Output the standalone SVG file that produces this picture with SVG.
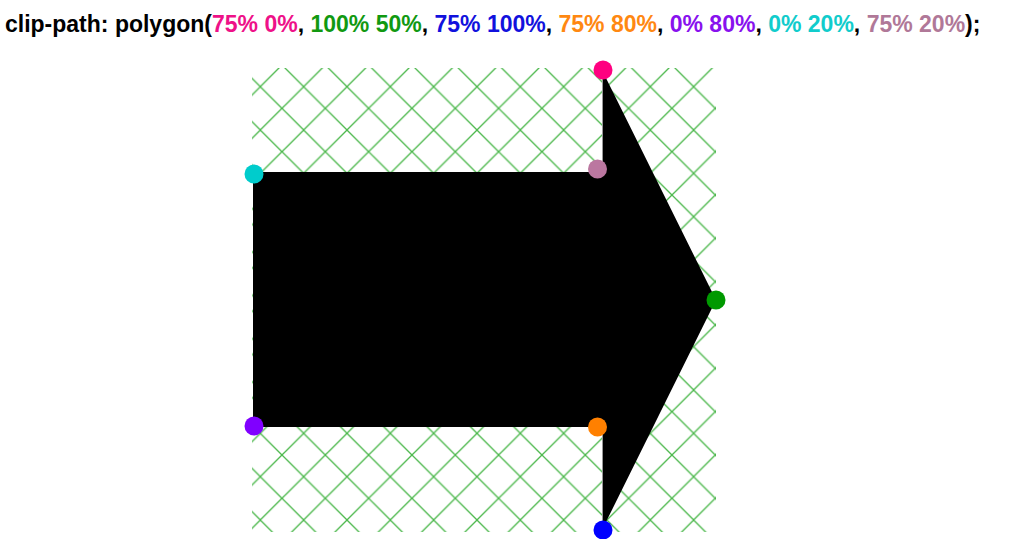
<svg xmlns="http://www.w3.org/2000/svg" width="1024" height="539" viewBox="0 0 1024 539">
  <style>
    .title { font-family: "Liberation Sans", Arial, sans-serif; font-weight: bold; font-size: 23px; fill: #000; }
    .c1 { fill: #ee1188; } .c2 { fill: #119911; } .c3 { fill: #1111dd; } .c4 { fill: #ff8811; }
    .c5 { fill: #8811ee; } .c6 { fill: #11cccc; } .c7 { fill: #b07898; }
    .hatch { stroke: #4cb84c; stroke-width: 1.3; fill: none; }
  </style>
  <defs>
    <pattern id="grid" patternUnits="userSpaceOnUse" x="0.34" y="0.03" width="43.33" height="43.33">
      <line class="hatch" x1="-2" y1="-2" x2="45.33" y2="45.33"/>
      <line class="hatch" x1="45.33" y1="-2" x2="-2" y2="45.33"/>
    </pattern>
  </defs>
  <text class="title" x="5" y="32">clip-path: polygon(<tspan class="c1">75% 0%</tspan>, <tspan class="c2">100% 50%</tspan>, <tspan class="c3">75% 100%</tspan>, <tspan class="c4">75% 80%</tspan>, <tspan class="c5">0% 80%</tspan>, <tspan class="c6">0% 20%</tspan>, <tspan class="c7">75% 20%</tspan>);</text>
  <g id="hatched-box">
    <rect x="252" y="68" width="464" height="464" fill="url(#grid)"/>
  </g>
  <g id="arrow-shape">
    <polygon points="602,70 716,300 602,530 602,427 253,427 253,172 602,172" fill="#000"/>
    <line x1="602.5" y1="72" x2="602.5" y2="172" stroke="#999" stroke-width="1"/>
    <line x1="602.5" y1="427" x2="602.5" y2="528" stroke="#999" stroke-width="1"/>
  </g>
  <g id="points">
    <circle id="p1" cx="603" cy="70" r="9.5" fill="#ff0080"/>
    <circle id="p2" cx="716" cy="300" r="9.5" fill="#009900"/>
    <circle id="p3" cx="603" cy="530" r="9.5" fill="#0000ff"/>
    <circle id="p4" cx="597.5" cy="427" r="9.5" fill="#ff8000"/>
    <circle id="p5" cx="254" cy="426" r="9.5" fill="#8000ff"/>
    <circle id="p6" cx="254" cy="174" r="9.5" fill="#00cccc"/>
    <circle id="p7" cx="597.5" cy="169" r="9.5" fill="#bb77a0"/>
  </g>
</svg>
